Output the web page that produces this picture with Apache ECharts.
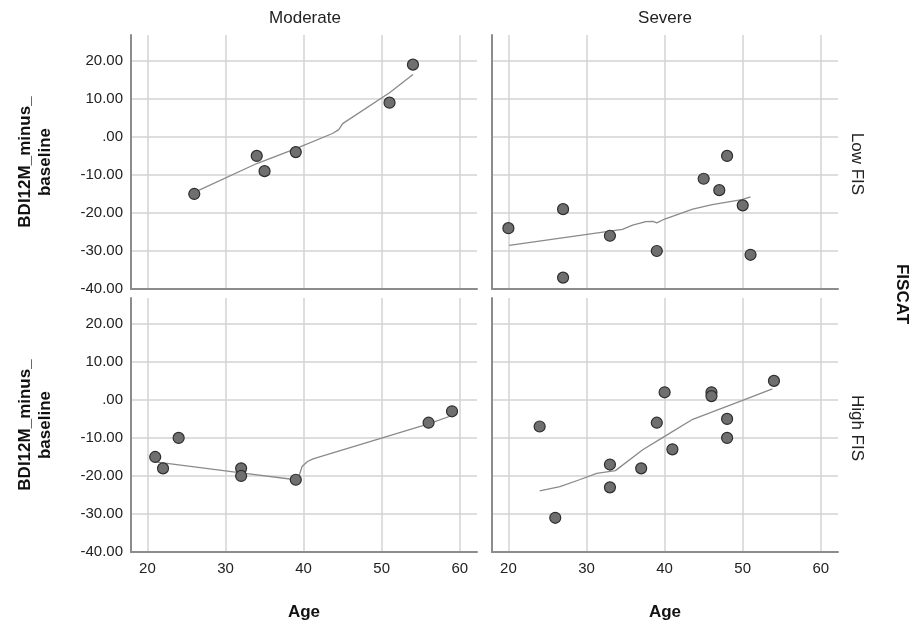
<!DOCTYPE html>
<html>
<head>
<meta charset="utf-8">
<script src="https://cdn.jsdelivr.net/npm/echarts@6/dist/echarts.min.js"></script>
<style>html,body{margin:0;padding:0;background:#fff}#c{width:913px;height:631px}</style>
</head>
<body>
<div id="c"></div>
<script>
// Column facets and row facets
const colFacets = ['Moderate', 'Severe'];
const rowFacets = ['Low FIS', 'High FIS'];
const rowTitle = 'FISCAT';
const xTitle = 'Age';
const yTitle = 'BDI12M_minus_\nbaseline';

// Scatter points [Age, BDI12M_minus_baseline]
const modLowPts = [[26,-15],[34,-5],[35,-9],[39,-4],[51,9],[54,19]];
const sevLowPts = [[20,-24],[27,-19],[27,-37],[33,-26],[39,-30],[45,-11],[47,-14],[48,-5],[50,-18],[51,-31]];
const modHighPts = [[21,-15],[22,-18],[24,-10],[32,-18],[32,-20],[39,-21],[56,-6],[59,-3]];
const sevHighPts = [[24,-7],[26,-31],[33,-17],[33,-23],[37,-18],[39,-6],[40,2],[41,-13],[46,2],[46,1],[48,-5],[48,-10],[54,5]];

// Loess fit lines
const modLowFit = [[26,-14.6],[34,-7.0],[39,-3.1],[43.7,0.9],[44.5,1.9],[45,3.5],[51,11.6],[54,16.4]];
const sevLowFit = [[20.1,-28.5],[34.6,-24.3],[35.9,-23.2],[37.6,-22.3],[38.5,-22.2],[39,-22.6],[40,-21.6],[43.6,-19.0],[46.1,-17.8],[49.9,-16.5],[51,-15.8]];
const modHighFit = [[21,-16.3],[32,-19.2],[39,-21.0],[39.5,-19.5],[39.8,-17.5],[40.5,-16.2],[41.2,-15.5],[56,-6.3],[59,-4.1]];
const sevHighFit = [[24,-23.9],[26.6,-22.8],[29.1,-21.0],[31.3,-19.3],[33.7,-18.6],[37.2,-13.1],[40,-9.6],[43.6,-5.1],[45.7,-3.5],[49.9,-0.2],[53.8,2.9]];

// Axis ranges
const xMin = 17.9, xMax = 62.2;
const yMin = -40, yMax = 26.8;

const panels = [
  {pts: modLowPts, fit: modLowFit, left: 131, top: 35, showX: false, showY: true},
  {pts: sevLowPts, fit: sevLowFit, left: 492, top: 35, showX: false, showY: false},
  {pts: modHighPts, fit: modHighFit, left: 131, top: 298, showX: true, showY: true},
  {pts: sevHighPts, fit: sevHighFit, left: 492, top: 298, showX: true, showY: false}
];

const FONT = 'Liberation Sans, Arial, sans-serif';
const gridColor = '#d3d3d3';
const axisColor = '#8c8c8c';

const grids = [], xAxes = [], yAxes = [], series = [];
panels.forEach((p, i) => {
  grids.push({left: p.left, top: p.top, width: 346, height: 254});
  xAxes.push({
    type: 'value', gridIndex: i, min: xMin, max: xMax, splitNumber: 5,
    axisLine: {show: true, onZero: false, lineStyle: {color: axisColor, width: 2}},
    axisTick: {show: false},
    axisLabel: {show: p.showX, margin: 9, color: '#222', fontSize: 15, fontFamily: FONT,
      showMinLabel: false, showMaxLabel: false,
      formatter: v => (Math.abs(v - Math.round(v / 10) * 10) < 1e-6 ? String(Math.round(v)) : '')},
    splitLine: {show: true, showMinLine: false, showMaxLine: false, lineStyle: {color: gridColor, width: 1.5}},
    name: p.showX ? xTitle : '', nameLocation: 'middle', nameGap: 52,
    nameTextStyle: {fontSize: 17, fontWeight: 'bold', color: '#111', fontFamily: FONT}
  });
  yAxes.push({
    type: 'value', gridIndex: i, min: yMin, max: yMax, splitNumber: 5,
    axisLine: {show: true, onZero: false, lineStyle: {color: axisColor, width: 2}},
    axisTick: {show: false},
    axisLabel: {show: p.showY, margin: 8, color: '#222', fontSize: 15, fontFamily: FONT,
      showMinLabel: true, showMaxLabel: false,
      formatter: v => {
        if (Math.abs(v - Math.round(v / 10) * 10) > 1e-6) return '';
        return v === 0 ? '.00' : v.toFixed(2);
      }},
    splitLine: {show: true, showMinLine: false, showMaxLine: false, lineStyle: {color: gridColor, width: 1.5}},
    name: p.showY ? yTitle : '', nameLocation: 'middle', nameGap: 76, nameRotate: 90,
    nameTextStyle: {fontSize: 17, fontWeight: 'bold', color: '#111', fontFamily: FONT, lineHeight: 20}
  });
  series.push({
    type: 'line', xAxisIndex: i, yAxisIndex: i, data: p.fit, showSymbol: false, smooth: false,
    lineStyle: {color: '#8a8a8a', width: 1.3}, silent: true, z: 2
  });
  series.push({
    type: 'scatter', xAxisIndex: i, yAxisIndex: i, data: p.pts, symbolSize: 11,
    itemStyle: {color: '#6f6f6f', borderColor: '#2e2e2e', borderWidth: 1.2, opacity: 1}, z: 3
  });
});

const txt = (x, y, s, opt) => Object.assign({type: 'text', x: x, y: y,
  style: Object.assign({text: s, fill: '#222', font: '17px ' + FONT, align: 'center', verticalAlign: 'middle'}, opt || {})});

const graphics = [
  txt(305, 18, colFacets[0]),
  txt(665, 18, colFacets[1]),
  Object.assign(txt(0, 0, rowFacets[0]), {x: 857, y: 164, rotation: -Math.PI / 2}),
  Object.assign(txt(0, 0, rowFacets[1]), {x: 857, y: 428, rotation: -Math.PI / 2}),
  Object.assign(txt(0, 0, rowTitle, {font: 'bold 17px ' + FONT, fill: '#111'}), {x: 902, y: 294, rotation: -Math.PI / 2})
];

const chart = echarts.init(document.getElementById('c'), null, {renderer: 'canvas'});
chart.setOption({
  animation: false,
  backgroundColor: '#fff',
  grid: grids, xAxis: xAxes, yAxis: yAxes, series: series,
  graphic: graphics
});
</script>
</body>
</html>
